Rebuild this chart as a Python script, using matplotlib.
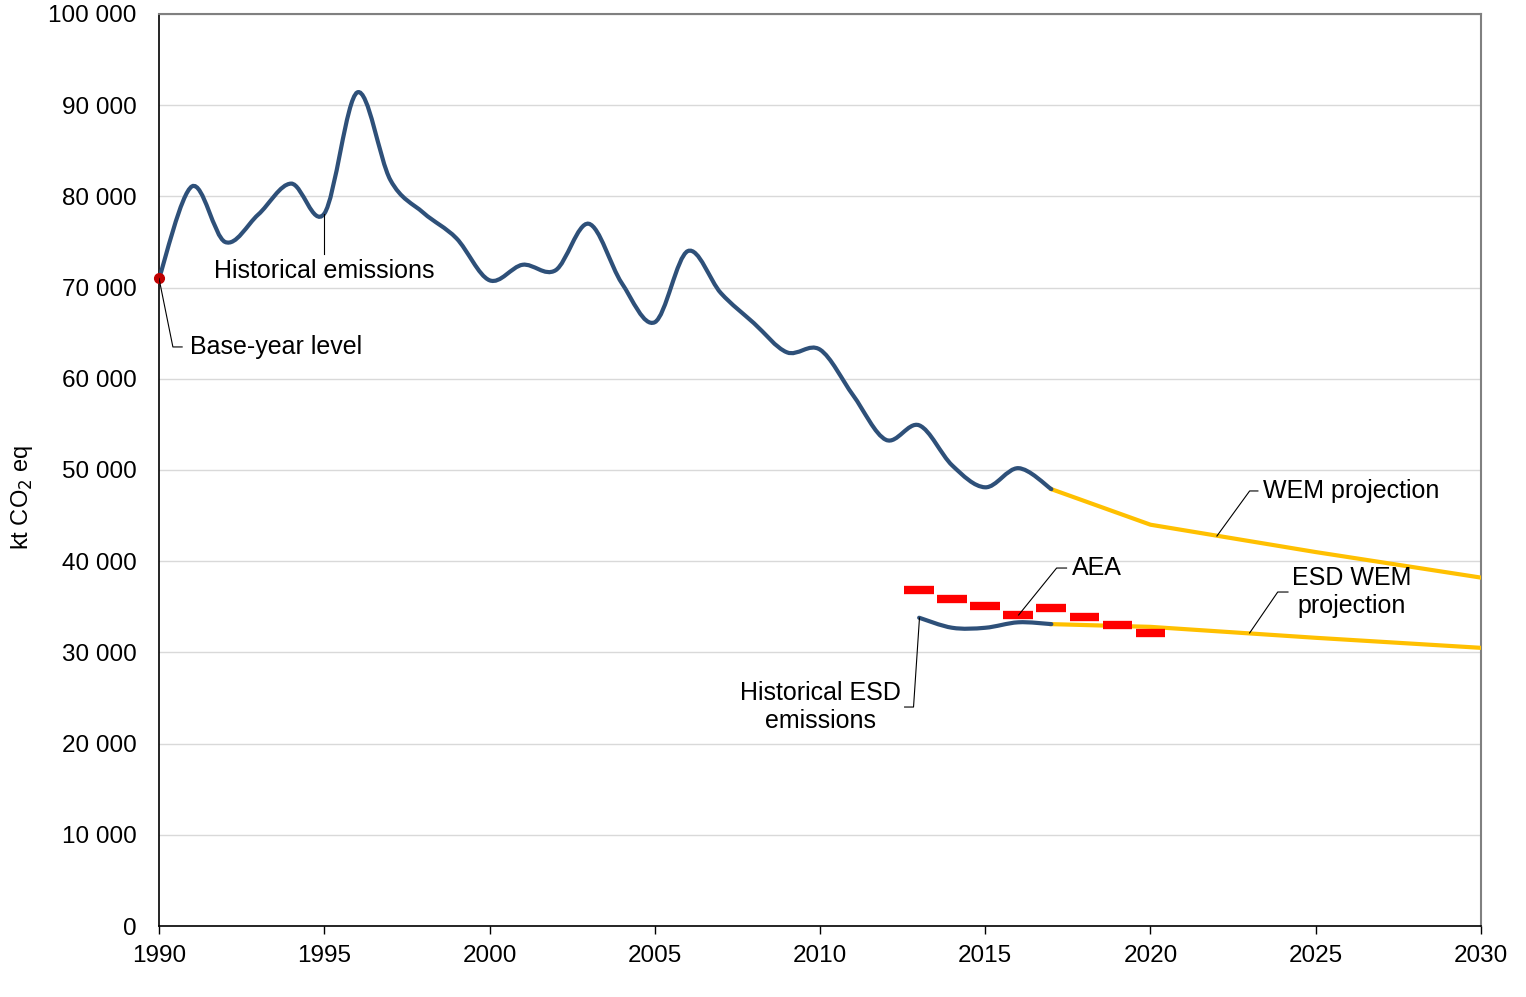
import matplotlib
matplotlib.use("Agg")
import matplotlib.pyplot as plt
from matplotlib.path import Path
from matplotlib.patches import PathPatch
from matplotlib.ticker import FuncFormatter, MultipleLocator
import numpy as np

plt.rcParams["font.family"] = ["Liberation Sans", "DejaVu Sans"]

# historical emissions, kt CO2 eq
hist_years = list(range(1990, 2018))
hist_values = [71000, 81100, 75000, 78000, 81400, 78100, 91400, 81800, 78200, 75400,
               70800, 72500, 71900, 77000, 70500, 66200, 74000, 69400, 66100, 62900,
               63200, 58200, 53300, 54900, 50500, 48100, 50200, 47900]

# WEM projection
wem_years = [2017, 2020, 2025, 2030]
wem_values = [47900, 44000, 41000, 38200]

# ESD historical and projection
esd_hist_years = [2013, 2014, 2015, 2016, 2017]
esd_hist_values = [33800, 32700, 32700, 33300, 33100]
esd_wem_years = [2017, 2020, 2025, 2030]
esd_wem_values = [33100, 32800, 31600, 30500]

# annual emission allocations
aea_years = [2013, 2014, 2015, 2016, 2017, 2018, 2019, 2020]
aea_values = [36800, 35900, 35100, 34100, 34900, 33900, 33000, 32100]

base_year = 1990
base_value = 71000

NAVY = "#2E5079"
GOLD = "#FFC000"


def smooth_path(x, y):
    # Excel-like smoothed line (cubic bezier through the points)
    x = np.asarray(x, float)
    y = np.asarray(y, float)
    pts = np.column_stack([x, y])
    n = len(pts)
    verts = [pts[0]]
    codes = [Path.MOVETO]
    for i in range(n - 1):
        p0 = pts[max(i - 1, 0)]
        p1 = pts[i]
        p2 = pts[i + 1]
        p3 = pts[min(i + 2, n - 1)]
        c1 = p1 + (p2 - p0) / 6.0
        c2 = p2 - (p3 - p1) / 6.0
        verts += [c1, c2, p2]
        codes += [Path.CURVE4] * 3
    return Path(verts, codes)


fig = plt.figure(figsize=(15.26, 9.97), dpi=100)
ax = fig.add_axes([0.1042, 0.0712, 0.8663, 0.9148])

ax.set_xlim(1990, 2030)
ax.set_ylim(0, 100000)

ax.yaxis.set_major_locator(MultipleLocator(10000))
ax.xaxis.set_major_locator(MultipleLocator(5))
ax.yaxis.set_major_formatter(FuncFormatter(lambda v, p: f"{v:,.0f}".replace(",", " ")))
ax.grid(axis="y", color="#D9D9D9", linewidth=1)
ax.set_axisbelow(True)

for s in ["left", "bottom"]:
    ax.spines[s].set_color("black")
    ax.spines[s].set_linewidth(1.2)
for s in ["top", "right"]:
    ax.spines[s].set_color("#808080")
    ax.spines[s].set_linewidth(1.5)

ax.tick_params(axis="y", length=0, labelsize=17.5, pad=16)
ax.tick_params(axis="x", length=6, width=1, direction="out", labelsize=17.5, pad=8)

ax.set_ylabel("kt CO$_2$ eq", fontsize=17)
ax.yaxis.set_label_coords(-0.094, 0.47)

# lines
ax.add_patch(PathPatch(smooth_path(hist_years, hist_values), fill=False,
                       edgecolor=NAVY, linewidth=3, capstyle="round", zorder=4))
ax.plot(wem_years, wem_values, color=GOLD, linewidth=3, zorder=3)
ax.plot(esd_wem_years, esd_wem_values, color=GOLD, linewidth=3, zorder=3)
ax.add_patch(PathPatch(smooth_path(esd_hist_years, esd_hist_values), fill=False,
                       edgecolor=NAVY, linewidth=3, capstyle="round", zorder=4))

ax.hlines(aea_values, np.array(aea_years) - 0.45, np.array(aea_years) + 0.45,
          color="#FF0000", linewidth=6, zorder=5)

ax.plot([base_year], [base_value], "o", color="#C00000", markersize=7, zorder=6,
        clip_on=False)

# leader lines and labels
lead = dict(color="black", linewidth=0.8, zorder=6)
txt = dict(fontsize=18, va="center")

ax.plot([1995, 1995], [78100, 73700], **lead)
ax.text(1995, 71800, "Historical emissions", ha="center", **txt)

ax.plot([1990, 1990.42, 1990.70], [71000, 63490, 63490], **lead)
ax.text(1990.94, 63490, "Base-year level", ha="left", **txt)

ax.plot([2022.01, 2023.0, 2023.25], [42760, 47700, 47700], **lead)
ax.text(2023.4, 47700, "WEM projection", ha="left", **txt)

ax.plot([2016.01, 2017.16, 2017.46], [34100, 39250, 39250], **lead)
ax.text(2017.62, 39250, "AEA", ha="left", **txt)

ax.plot([2023.0, 2023.85, 2024.16], [32130, 36620, 36620], **lead)
ax.text(2026.09, 36620, "ESD WEM\nprojection", ha="center", multialignment="center", **txt)

ax.plot([2013.01, 2012.83, 2012.56], [33770, 24010, 24010], **lead)
ax.text(2012.46, 24010, "Historical ESD\nemissions", ha="right", multialignment="center", **txt)

fig.savefig("out.png", dpi=100)
